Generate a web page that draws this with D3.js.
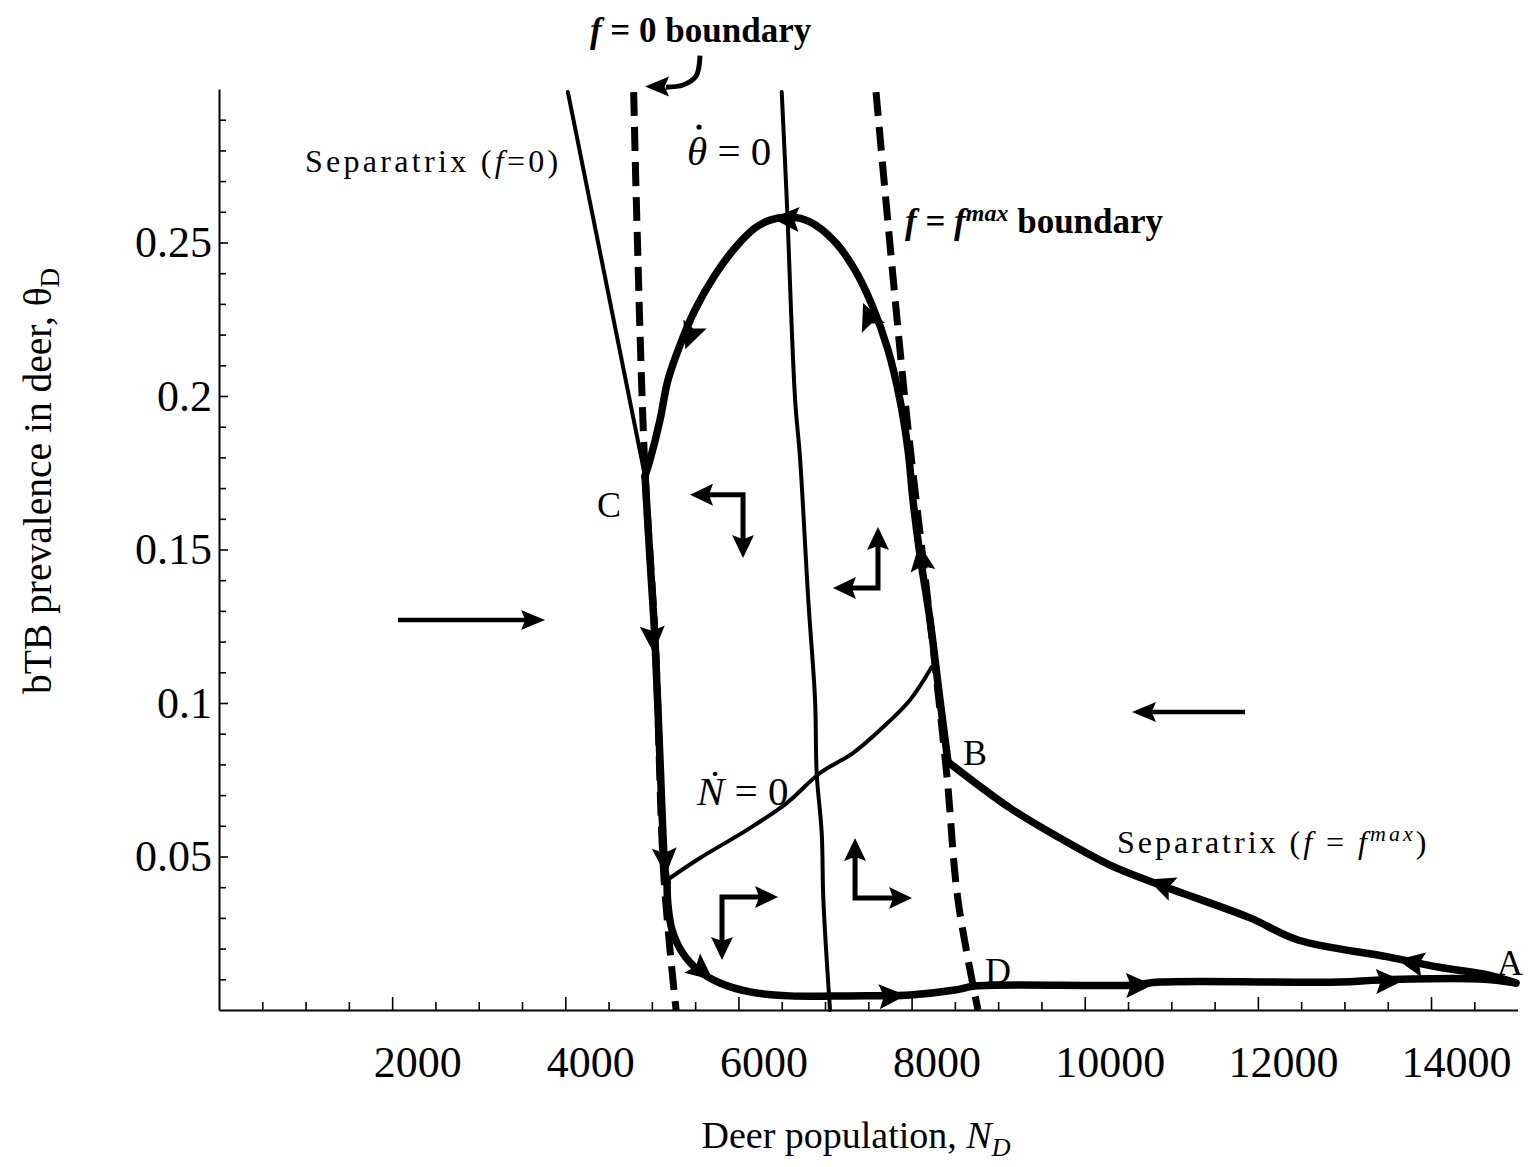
<!DOCTYPE html>
<html>
<head>
<meta charset="utf-8">
<script src="https://cdn.jsdelivr.net/npm/d3@7"></script>
<style>
  body { margin: 0; background: #fff; }
  text { font-family: "Liberation Serif", "Times New Roman", serif; fill: #000; }
</style>
</head>
<body>
<svg id="chart" width="1528" height="1167"></svg>
<script>
// axis ticks
var xMajor = [2000, 4000, 6000, 8000, 10000, 12000, 14000];
var yMajor = [0.05, 0.1, 0.15, 0.2, 0.25];

// curves, [deer population, prevalence]
var sepF0 = [[4030, 0.299], [4920, 0.174]];
var boundF0 = [[4790, 0.299], [4820, 0.264], [4920, 0.176], [5040, 0.12], [5140, 0.043], [5280, 0]];
var boundFmax = [[7589, 0.299], [7924, 0.1987], [8213, 0.127], [8409, 0.0759], [8536, 0.0358], [8767, 0]];
var thetaNull = [[6500, 0.299], [6558, 0.264], [6654, 0.199], [6711, 0.18], [6807, 0.1335], [6885, 0.101],
  [6904, 0.077], [6962, 0.0576], [6981, 0.0358], [7058, 0]];
var nNull = [[5210, 0.043], [5556, 0.0495], [6095, 0.0586], [6558, 0.0674], [6942, 0.0772], [7323, 0.0837],
  [7635, 0.0912], [7982, 0.101], [8232, 0.1117]];

// thick trajectory pieces
var cycleDown = [[4921, 0.1739], [4979, 0.1466], [5036, 0.1205], [5094, 0.0814], [5152, 0.0456], [5175, 0.0417]];
var cycleBottom = [[5175, 0.0417], [5186, 0.0342], [5233, 0.0261], [5348, 0.0189], [5533, 0.013], [5787, 0.0088],
  [6134, 0.0059], [6596, 0.0046], [7289, 0.0046], [7982, 0.0049], [8502, 0.0065], [8732, 0.0078],
  [10523, 0.0081], [10870, 0.0091], [12949, 0.0091], [13410, 0.0098], [14566, 0.0101], [14980, 0.0088]];
var sepFmax = [[14980, 0.0088], [14658, 0.0114], [14081, 0.014], [13503, 0.0173], [12464, 0.0228], [11909, 0.03],
  [10870, 0.0407], [10292, 0.0472], [9714, 0.056], [9137, 0.0658], [8421, 0.0808]];
var cycleUp = [[8421, 0.0808], [8328, 0.101], [8213, 0.127], [8097, 0.1482], [8016, 0.1661], [7959, 0.1824],
  [7866, 0.1987], [7728, 0.215], [7543, 0.2296], [7347, 0.241], [7115, 0.2502], [6827, 0.2567], [6596, 0.2583],
  [6365, 0.2573], [6191, 0.2547], [5960, 0.2482], [5729, 0.2394], [5498, 0.228], [5325, 0.2166], [5186, 0.2052],
  [5094, 0.1922], [4979, 0.1792], [4921, 0.1739]];

// arrowheads sitting on the trajectory
var pathArrows = [
  ["down", 5013, 0.1205], ["down", 5152, 0.0482],
  ["bottom", 5591, 0.0124], ["bottom", 7786, 0.0046], ["bottom", 10639, 0.0081], ["bottom", 13526, 0.0094],
  ["sep", 13757, 0.0156], ["sep", 10870, 0.041],
  ["up", 8109, 0.1476], ["up", 7497, 0.2264], ["up", 6538, 0.2577], ["up", 5440, 0.2192]
];

// direction-field L arrows: corner N, corner theta, horizontal tip N, vertical tip theta
var lArrows = [
  [6053, 0.1678, 5441, 0.1472],
  [7612, 0.1375, 7092, 0.1573],
  [5810, 0.0368, 6457, 0.0163],
  [7347, 0.0365, 8005, 0.056]
];
// straight arrows: from, to
var longArrows = [
  [[2068, 0.127], [3766, 0.127]],
  [[11852, 0.0971], [10546, 0.0971]]
];
var labelArrow = [[5556, 0.3109], [5510, 0.3042], [5360, 0.3013], [5163, 0.3006], [4921, 0.3008]];

var svg = d3.select("#chart");
var x = d3.scaleLinear().domain([0, 15000]).range([219, 1517.6]);
var y = d3.scaleLinear().domain([0, 0.3]).range([1010, 89]);

//axes
var xMinor = d3.range(500, 15000, 500).filter(function(v) { return v % 2000 !== 0; });
var yMinor = d3.range(1, 30).map(function(v) { return v / 100; }).filter(function(v) {
  return yMajor.indexOf(v) < 0;
});

svg.append("g")
  .attr("transform", "translate(0,1010)")
  .call(d3.axisBottom(x).tickValues(xMinor).tickSize(-8).tickSizeOuter(0).tickFormat(""))
  .call(function(g) { g.select(".domain").remove(); });
var gx = svg.append("g")
  .attr("transform", "translate(0,1010)")
  .call(d3.axisBottom(x).tickValues(xMajor).tickSize(-13).tickSizeOuter(0).tickPadding(36)
    .tickFormat(d3.format("d")));
gx.selectAll("text").attr("font-size", 44).attr("dx", 25).style("font-family", "Liberation Serif");

svg.append("g")
  .attr("transform", "translate(219,0)")
  .call(d3.axisLeft(y).tickValues(yMinor).tickSize(-7).tickSizeOuter(0).tickFormat(""))
  .call(function(g) { g.select(".domain").remove(); });
var gy = svg.append("g")
  .attr("transform", "translate(219,0)")
  .call(d3.axisLeft(y).tickValues(yMajor).tickSize(-9).tickSizeOuter(0).tickPadding(7)
    .tickFormat(function(d) { return String(+d.toFixed(2)); }));
gy.selectAll("text").attr("font-size", 44).style("font-family", "Liberation Serif");

svg.selectAll(".domain").attr("stroke-width", 2);
svg.selectAll(".tick line").attr("stroke-width", 1.6);

// axis titles
var xt = svg.append("text").attr("x", 856).attr("y", 1148).attr("text-anchor", "middle").attr("font-size", 38);
xt.append("tspan").text("Deer population, ");
xt.append("tspan").attr("font-style", "italic").text("N");
xt.append("tspan").attr("font-style", "italic").attr("font-size", 26).attr("dy", 8).text("D");

var yt = svg.append("text").attr("transform", "translate(51,481) rotate(-90)")
  .attr("text-anchor", "middle").attr("font-size", 39.5);
yt.append("tspan").text("bTB prevalence in deer, θ");
yt.append("tspan").attr("font-size", 27).attr("dy", 8).text("D");

// curves
var line = d3.line()
  .x(function(d) { return x(d[0]); })
  .y(function(d) { return y(d[1]); })
  .curve(d3.curveCatmullRom);

function drawCurve(data, width, dash) {
  svg.append("path")
    .datum(data)
    .attr("d", line)
    .attr("fill", "none")
    .attr("stroke", "#000")
    .attr("stroke-width", width)
    .attr("stroke-linejoin", "round")
    .attr("stroke-linecap", dash ? "butt" : "round")
    .attr("stroke-dasharray", dash || null);
}

drawCurve(sepF0, 4);
drawCurve(thetaNull, 4);
drawCurve(nNull, 4);
drawCurve(boundF0, 7, "24,11");
drawCurve(boundFmax, 7, "24,11");
drawCurve(cycleDown, 7.5);
drawCurve(cycleBottom, 7.5);
drawCurve(sepFmax, 7.5);
drawCurve(cycleUp, 7.5);

//arrowhead: tip point in px, direction angle, length, width
function head(tx, ty, ang, len, wid) {
  var c = Math.cos(ang), s = Math.sin(ang);
  var bx = tx - len * c, by = ty - len * s;
  var nx = tx - 0.82 * len * c, ny = ty - 0.82 * len * s;
  var pts = [[tx, ty], [bx - s * wid / 2, by + c * wid / 2], [nx, ny], [bx + s * wid / 2, by - c * wid / 2]];
  svg.append("path")
    .attr("d", "M" + pts.join("L") + "Z")
    .attr("fill", "#000");
}

var pieces = { down: cycleDown, bottom: cycleBottom, sep: sepFmax, up: cycleUp };
pathArrows.forEach(function(a) {
  var pts = pieces[a[0]].map(function(d) { return [x(d[0]), y(d[1])]; });
  var px = x(a[1]), py = y(a[2]);
  var best = 0, bd = Infinity;
  pts.forEach(function(p, i) {
    var dd = (p[0] - px) * (p[0] - px) + (p[1] - py) * (p[1] - py);
    if (dd < bd) { bd = dd; best = i; }
  });
  var i0 = Math.max(0, best - 1), i1 = Math.min(pts.length - 1, best + 1);
  var ang = Math.atan2(pts[i1][1] - pts[i0][1], pts[i1][0] - pts[i0][0]);
  head(px + 13 * Math.cos(ang), py + 13 * Math.sin(ang), ang, 27, 25);
});

// L arrows
lArrows.forEach(function(a) {
  var cx = x(a[0]), cy = y(a[1]), hx = x(a[2]), vy = y(a[3]);
  var sh = hx > cx ? -16 : 16, sv = vy > cy ? -16 : 16;
  svg.append("path")
    .attr("d", "M" + (hx + sh) + "," + cy + "L" + cx + "," + cy + "L" + cx + "," + (vy + sv))
    .attr("fill", "none").attr("stroke", "#000").attr("stroke-width", 5);
  head(hx, cy, hx > cx ? 0 : Math.PI, 23, 22);
  head(cx, vy, vy > cy ? Math.PI / 2 : -Math.PI / 2, 23, 22);
});

longArrows.forEach(function(a) {
  var x0 = x(a[0][0]), x1 = x(a[1][0]), yy = y(a[0][1]);
  var sh = x1 > x0 ? -16 : 16;
  svg.append("path")
    .attr("d", "M" + x0 + "," + yy + "L" + (x1 + sh) + "," + yy)
    .attr("stroke", "#000").attr("stroke-width", 4.5);
  head(x1, yy, x1 > x0 ? 0 : Math.PI, 24, 20);
});

// curved pointer for the f = 0 label
var lp = labelArrow.slice(0, 4);
svg.append("path").datum(lp).attr("d", line)
  .attr("fill", "none").attr("stroke", "#000").attr("stroke-width", 5);
head(x(labelArrow[4][0]), y(labelArrow[4][1]), Math.PI, 24, 20);

// labels
function label(n, t, size, parts, bold, spacing) {
  var el = svg.append("text").attr("x", x(n)).attr("y", y(t)).attr("font-size", size)
    .attr("font-weight", bold ? "bold" : null)
    .attr("letter-spacing", spacing || null);
  parts.forEach(function(p) {
    var ts = el.append("tspan").text(p[0]);
    if (p[1]) ts.attr("font-style", "italic");
    if (p[2]) ts.attr("font-size", p[2]).attr("dy", p[3]);
  });
  return el;
}

label(4285, 0.3153, 35, [["f", 1, null], [" = 0 boundary"]], true);
label(993, 0.273, 32, [["Separatrix ("], ["f", 1], ["=0)"]], false, 3.3);
label(5406, 0.2752, 41, [["θ", 1], ["  = 0"]]);
// dot over theta
svg.append("circle").attr("cx", x(5545)).attr("cy", y(0.2876)).attr("r", 2.6).attr("fill", "#000");
label(7924, 0.2531, 35, [["f", 1], [" = "], ["f", 1], ["max", 1, 24, -12], [" boundary", 0, 35, 12]], true);
label(4366, 0.1606, 36, [["C"]]);
label(8594, 0.0798, 36, [["B"]]);
label(5521, 0.0668, 41, [["\u1E44", 1], [" = 0"]]);
label(8848, 0.0088, 36, [["D"]]);
label(14762, 0.0114, 36, [["A"]]);
label(10373, 0.0511, 32, [["Separatrix ("], ["f", 1], [" = "], ["f", 1], ["max", 1, 22, -12], [")", 0, 32, 12]], false, 3);
</script>
</body>
</html>
